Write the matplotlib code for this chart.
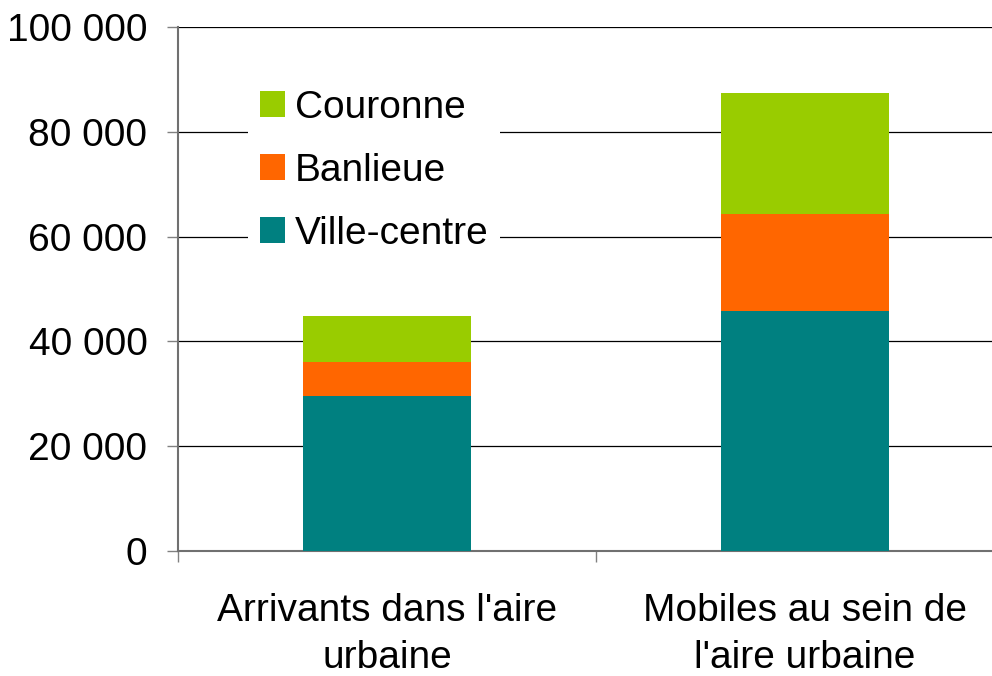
import matplotlib.pyplot as plt
from matplotlib.ticker import FuncFormatter

plt.rcParams['font.family'] = ['Liberation Sans', 'DejaVu Sans']

# data
categories = ["Arrivants dans l'aire\nurbaine", "Mobiles au sein de\nl'aire urbaine"]
ville_centre = [29600, 45800]
banlieue = [6500, 18600]
couronne = [8700, 23000]

colors = {'Ville-centre': '#008080', 'Banlieue': '#FF6600', 'Couronne': '#99CC00'}

fig = plt.figure(figsize=(9.92, 6.76), dpi=100)
ax = fig.add_axes([178 / 992, 1 - 551 / 676, (1014 - 178) / 992, (551 - 27) / 676])

x = list(range(len(categories)))
width = 0.40
b1 = ax.bar(x, ville_centre, width, color=colors['Ville-centre'], label='Ville-centre', zorder=3)
bottom2 = ville_centre
b2 = ax.bar(x, banlieue, width, bottom=bottom2, color=colors['Banlieue'], label='Banlieue', zorder=3)
bottom3 = [a + b for a, b in zip(ville_centre, banlieue)]
b3 = ax.bar(x, couronne, width, bottom=bottom3, color=colors['Couronne'], label='Couronne', zorder=3)

ax.set_xlim(-0.5, 1.5)
ax.set_ylim(0, 100000)
ax.set_yticks(range(0, 100001, 20000))
ax.yaxis.set_major_formatter(FuncFormatter(lambda v, p: f"{int(v):,}".replace(',', ' ')))
ax.yaxis.grid(True, color='black', linewidth=0.9, zorder=0)
ax.set_axisbelow(True)

ax.set_xticks(x)
ax.set_xticklabels(categories, fontsize=28, linespacing=1.4)
ax.set_xticks([-0.5, 0.5, 1.5], minor=True)
ax.tick_params(axis='x', which='major', length=0, pad=30)
ax.tick_params(axis='x', which='minor', length=8, width=1, color='#808080')
ax.tick_params(axis='y', labelsize=28, length=8, width=1, color='#808080', pad=14)

for side in ['top', 'right']:
    ax.spines[side].set_visible(False)
for side in ['left', 'bottom']:
    ax.spines[side].set_color('#707070')
    ax.spines[side].set_linewidth(1.5)

leg = ax.legend(handles=[b3, b2, b1], loc='upper left',
                bbox_to_anchor=(248 / 992, 1 - 78 / 676), bbox_transform=fig.transFigure,
                fontsize=28, frameon=True, fancybox=False, edgecolor='white', framealpha=1,
                handlelength=0.65, handleheight=0.65, handletextpad=0.25,
                labelspacing=0.70, borderpad=0.3, borderaxespad=0)
leg.get_frame().set_linewidth(0)

fig.savefig('out.png', dpi=100)
